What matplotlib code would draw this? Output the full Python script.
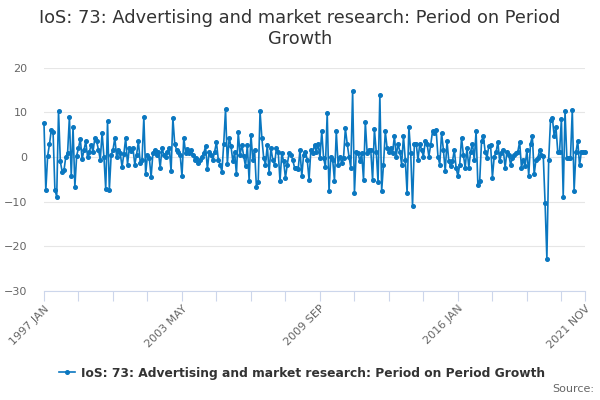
import pandas as pd
import matplotlib
matplotlib.use("Agg")
import matplotlib.pyplot as plt

# monthly period-on-period growth, 1997 JAN .. 2021 NOV
months = pd.date_range("1997-01-01", "2021-11-01", freq="MS")
month_labels = [m.strftime("%Y %b").upper() for m in months]

growth = [
    7.5, -7.5, 0.2, 2.8, 6.0, 5.5, -7.3, -8.9, 10.3, -1.0,
    -3.3, -3.0, 0.0, 0.9, 9.0, -4.3, 6.7, -6.7, 0.3, 2.0,
    4.0, -0.5, 1.5, 3.5, 0.0, 1.2, 2.7, 1.2, 4.2, 3.5,
    1.6, -0.6, 5.4, 0.1, -7.2, 8.0, -7.3, 0.5, 1.5, 4.3,
    0.1, 1.6, 0.8, -2.2, 0.7, 4.3, -1.7, 2.0, 1.3, 2.0,
    -1.7, 0.5, 3.5, -1.3, -0.6, 8.9, -3.9, 0.5, -0.2, -4.5,
    0.9, 1.6, 0.4, 1.2, -2.4, 2.0, 0.5, 0.1, 1.2, 2.0,
    -3.2, 8.7, 3.0, 1.6, 1.2, 0.5, -4.3, 4.3, 0.9, 1.8,
    0.8, 1.5, 0.5, -0.6, -0.2, -1.3, -0.6, 0.1, 0.8, 2.4,
    -2.7, 1.2, 0.5, -0.6, 1.2, 3.3, -0.6, -1.7, -3.3, 3.0,
    10.7, -1.6, 4.3, 2.4, -0.9, 1.0, -3.9, 5.5, 0.5, 2.7,
    0.2, -2.1, 2.7, -5.4, 5.0, -0.6, 1.6, -6.7, -5.5, 10.2,
    4.3, -0.2, -1.7, 2.7, -3.6, 2.0, -0.6, -1.7, 2.0, 1.2,
    -5.4, 0.9, -1.0, -4.7, -1.7, 0.9, 0.5, -0.6, -2.4, -2.4,
    -2.8, 1.6, -4.3, 0.5, 1.2, -0.6, -5.1, 1.6, 0.9, 2.7,
    1.2, 3.0, -0.2, 5.7, -0.2, -2.2, 9.9, -7.7, 0.1, -0.6,
    -5.3, 5.7, -1.7, 0.1, -1.3, -0.2, 6.4, 3.0, 0.1, -2.4,
    14.8, -8.0, 1.2, 0.9, -1.0, 0.8, -5.1, 7.8, 0.9, 1.6,
    1.5, -5.2, 6.2, 1.2, -5.6, 13.9, -7.6, -1.7, 5.7, 2.0,
    1.2, 2.0, 0.9, 4.7, 0.1, 3.0, 1.2, -1.7, 4.7, -0.6,
    -8.0, 6.8, 0.9, -11.0, 3.0, 3.0, -0.6, 3.0, 1.6, 0.1,
    3.5, 3.0, 0.1, 2.7, 5.7, 5.4, 6.1, 0.1, -1.7, 5.4,
    1.6, -3.2, 3.5, -1.0, -2.1, -1.0, 1.6, -2.4, -4.3, -1.7,
    4.3, 0.5, -2.4, 2.0, -2.4, 1.2, 3.0, -0.6, 5.7, -6.2,
    -5.4, 3.5, 4.7, 1.2, -0.2, 2.4, 2.7, -4.6, 0.1, 1.0,
    3.4, -1.0, 0.9, 1.6, -2.4, 1.2, 0.5, -1.7, -0.2, 0.5,
    0.9, 1.2, 3.4, -2.4, -0.6, -2.1, 1.6, -4.2, 3.0, 4.7,
    -3.9, -0.6, -0.2, 1.5, 0.5, 0.3, -10.2, -22.8, -0.6, 8.2,
    8.8, 4.8, 6.6, 1.2, 1.2, 8.6, -8.9, 10.2, -0.2, -0.2,
    -0.2, 10.6, -7.6, 1.0, 3.6, -1.9, 1.2, 1.2, 1.0,
]

shown_labels = ["1997 JAN", "2003 MAY", "2009 SEP", "2016 JAN", "2021 NOV"]
y_ticks = [-30, -20, -10, 0, 10, 20]
series_name = "IoS: 73: Advertising and market research: Period on Period Growth"

LINE = "#0a77c0"
AXIS = "#ccd6eb"
GRID = "#e6e6e6"
TEXT = "#666666"

fig = plt.figure(figsize=(6, 4), dpi=100)
ax = fig.add_axes([44 / 600, 1 - 291 / 400, (585 - 44) / 600, (291 - 67.6) / 400])

x = list(range(len(growth)))
ax.plot(x, growth, color=LINE, linewidth=1.2, marker="o", markersize=2.6,
        label=series_name, zorder=3, clip_on=False)

ax.set_xlim(0, len(growth) - 1)
ax.set_ylim(-30, 20)
ax.set_yticks(y_ticks)
ax.yaxis.grid(True, color=GRID, linewidth=0.8)
ax.set_axisbelow(True)

# ticks every 19 months, label every 4th one plus the last month
tick_pos = list(range(0, len(growth), 19)) + [len(growth) - 1]
tick_txt = [month_labels[p] if month_labels[p] in shown_labels else "" for p in tick_pos]
ax.set_xticks(tick_pos)
ax.set_xticklabels(tick_txt, rotation=45, ha="right", va="top",
                   rotation_mode="anchor", fontsize=8, color=TEXT)
ax.tick_params(axis="x", length=7, width=0.8, color=AXIS, pad=2)
ax.tick_params(axis="y", length=0, pad=12, labelsize=8, labelcolor=TEXT)

for side in ["top", "right", "left"]:
    ax.spines[side].set_visible(False)
ax.spines["bottom"].set_color(AXIS)
ax.spines["bottom"].set_linewidth(0.8)

fig.text(0.5, 1 - 18 / 400, "IoS: 73: Advertising and market research: Period on Period",
         ha="center", va="center", fontsize=12.8, color="#333333")
fig.text(0.5, 1 - 39 / 400, "Growth", ha="center", va="center",
         fontsize=12.8, color="#333333")

fig.legend(loc="center", bbox_to_anchor=(0.503, 1 - 373 / 400), frameon=False,
           prop={"weight": "bold", "size": 8.8}, handlelength=1.3,
           handletextpad=0.5, labelcolor="#333333")

fig.text(0.99, 1 - 389 / 400, "Source:", ha="right", va="center",
         fontsize=8, color=TEXT)

fig.savefig("out.png", dpi=100)
